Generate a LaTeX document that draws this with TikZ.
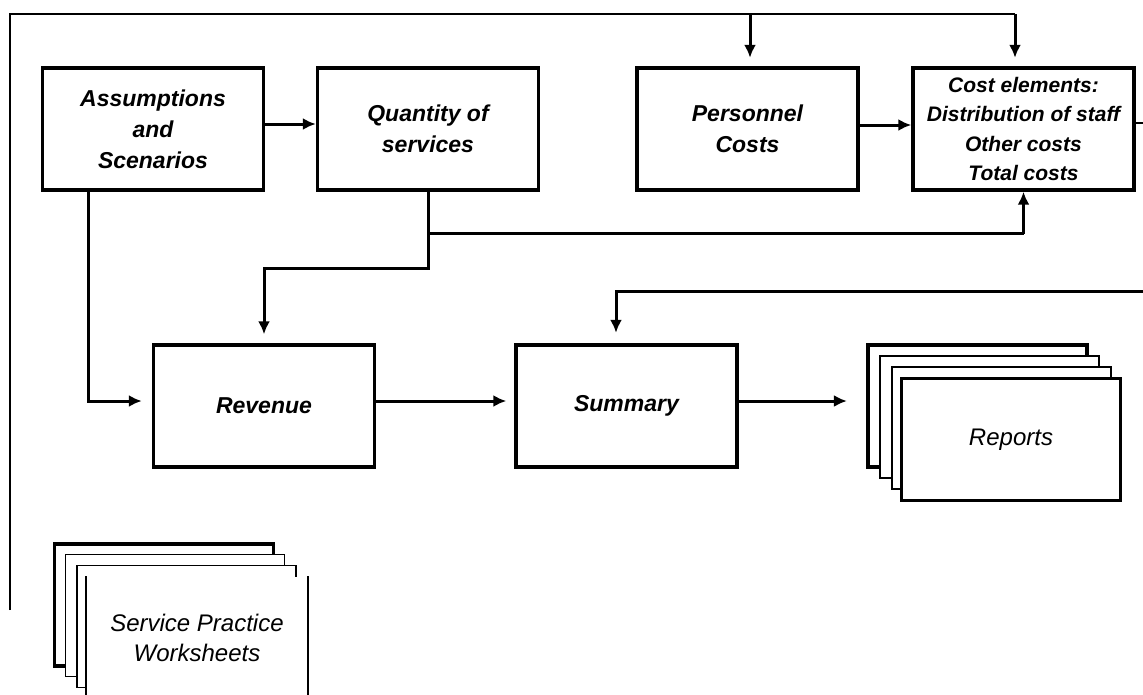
\documentclass[tikz,border=0pt]{standalone}
\usepackage{fontspec}
\setmainfont{Liberation Sans}
\usetikzlibrary{arrows.meta,calc}
\begin{document}
\begin{tikzpicture}[x=1pt,y=-1pt,
  box/.style={draw, line width=3.4pt, minimum width=221pt, minimum height=122pt, inner sep=2pt, align=center,
    font=\fontsize{23pt}{31pt}\selectfont\bfseries\itshape},
  sheet/.style={draw, fill=white, line width=2pt, minimum width=219pt, minimum height=122pt, inner sep=0pt, align=center,
    font=\fontsize{24pt}{30pt}\selectfont\itshape},
  conn/.style={line width=3pt},
  arr/.style={conn, -{Latex[length=13pt,width=12pt]}},
]
\useasboundingbox (0,0) rectangle (1143,694);
\clip (0,0) rectangle (1143,694);

% main boxes
\node[box] (asm) at (153,129) {Assumptions\\and\\Scenarios};
\node[box] (qty) at (428,129) {Quantity of\\services};
\node[box] (per) at (747.5,129) {Personnel\\Costs};
\node[box, font=\fontsize{21pt}{29.5pt}\selectfont\bfseries\itshape] (cost) at (1023.5,129)
  {Cost elements:\\Distribution of staff\\Other costs\\Total costs};
\node[box] (rev) at (264,406) {Revenue};
\node[box] (sum) at (626.5,406) {Summary};

% reports stack
\node[sheet, line width=3.2pt] (rp1) at (977.5,406) {};
\node[sheet] (rp2) at (989.5,416.5) {};
\node[sheet] (rp3) at (1001,428) {};
\node[sheet, line width=2.4pt] (rp4) at (1011,439.5) {Reports};

% worksheets stack
\node[sheet, line width=3.2pt] (ws1) at (164,605) {};
\node[sheet, line width=1.7pt] (ws2) at (175,615.5) {};
\node[sheet, line width=1.7pt] (ws3) at (186.5,626.5) {};
\node[sheet, draw=none, minimum width=220pt] (ws4) at (197,638) {Service Practice\\Worksheets};
\draw[line width=1.7pt] (ws4.north west) -- (ws4.south west) (ws4.north east) -- (ws4.south east);

% coordinates
\coordinate (fb) at (10,610);
\coordinate (tl) at (10,14);
\coordinate (pin) at ($(per.north)+(2.5,0)$);
\coordinate (cin) at ($(cost.north)+(-8.5,0)$);
\coordinate (ce) at (1143,123);
\coordinate (qb) at ($(qty.south)+(0,42)$);
\coordinate (qr) at ($(qty.south)+(0,77)$);
\coordinate (ar) at (88,401);
\coordinate (sr) at (1143,291);
\coordinate (sx) at ($(sum.north)+(-10.5,0)$);

% top feed line
\draw[conn, line width=2.5pt] (fb) -- (tl) -- (tl -| cin);
\draw[arr, shorten >=8.5pt] (tl -| pin) -- (pin);
\draw[arr, shorten >=8.5pt] (tl -| cin) -- (cin);

% horizontal arrows between top boxes
\draw[arr] ($(asm.east)+(0,-5)$) -- ($(qty.west)+(0,-5)$);
\draw[arr] ($(per.east)+(0,-4)$) -- ($(cost.west)+(0,-4)$);
\draw[conn, line width=2.5pt] (cost.east |- ce) -- (ce);

% quantity branches
\draw[conn, line width=2.5pt] (qb) -- (qb -| cost.south);
\draw[arr] (qb -| cost.south) -- (cost.south);
\draw[arr, shorten >=9pt] (qty.south) -- (qr) -- (qr -| rev.north) -- (rev.north);

% assumptions to revenue
\draw[arr, shorten >=10pt] (asm.south -| ar) -- (ar) -- (ar -| rev.west);

% revenue -> summary -> reports
\draw[arr, shorten >=8pt] (rev.east |- ar) -- (sum.west |- ar);
\draw[arr, shorten >=19.5pt] (sum.east |- ar) -- (rp1.west |- ar);

% feed into summary
\draw[arr, shorten >=10.5pt] (sr) -- (sr -| sx) -- (sx);
\end{tikzpicture}
\end{document}
